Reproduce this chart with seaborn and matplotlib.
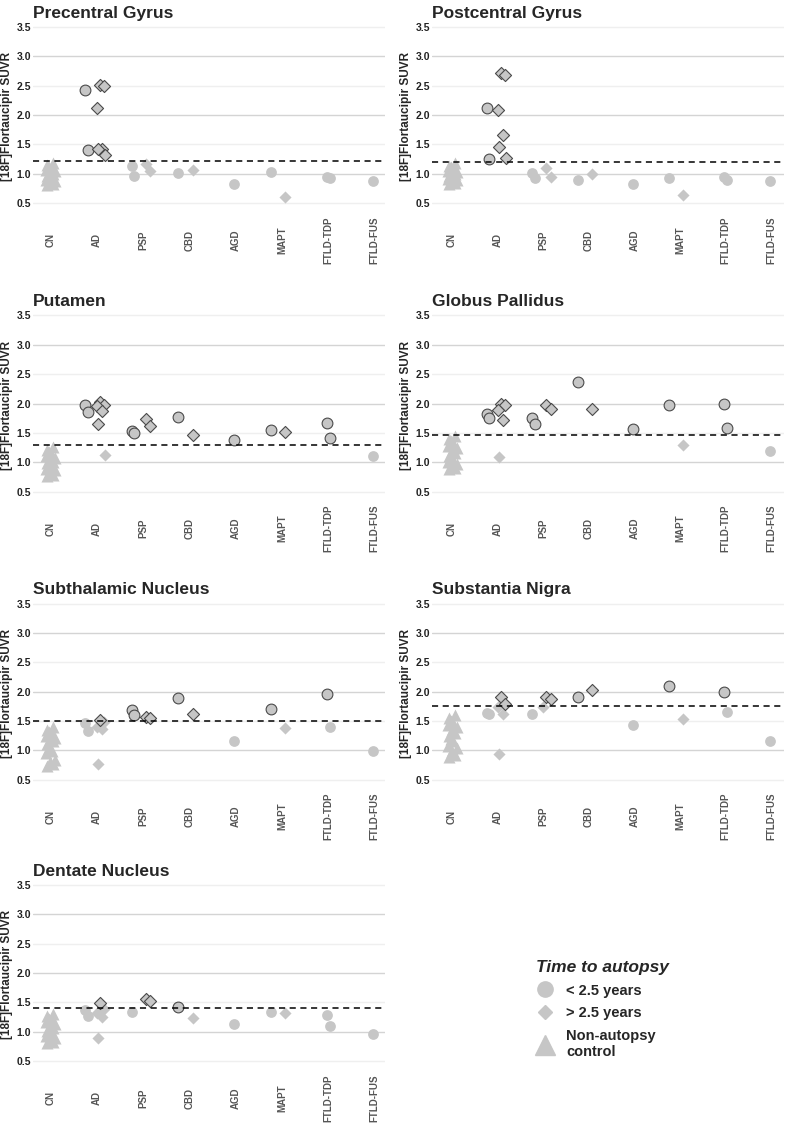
import pandas as pd
import matplotlib
matplotlib.use("Agg")
import matplotlib.pyplot as plt
from matplotlib.lines import Line2D
import seaborn as sns
import numpy as np

sns.set_style("white")
plt.rcParams["font.family"] = ["Liberation Sans", "DejaVu Sans"]

groups = ["CN", "AD", "PSP", "CBD", "AGD", "MAPT", "FTLD-TDP", "FTLD-FUS"]
regions = ["Precentral Gyrus", "Postcentral Gyrus", "Putamen", "Globus Pallidus",
           "Subthalamic Nucleus", "Substantia Nigra", "Dentate Nucleus"]
cutoffs = [1.22, 1.20, 1.30, 1.47, 1.49, 1.75, 1.40]

# non-autopsy controls (triangles)
precentral_cn = [0.80, 0.82, 0.85, 0.88, 0.90, 0.93, 0.95, 0.97, 1.00, 1.02, 1.04, 1.06, 1.09, 1.12, 1.15, 1.18]
postcentral_cn = [0.82, 0.84, 0.87, 0.89, 0.91, 0.93, 0.95, 0.97, 0.99, 1.01, 1.03, 1.05, 1.08, 1.11, 1.14, 1.18]
putamen_cn = [0.76, 0.79, 0.83, 0.86, 0.89, 0.92, 0.95, 0.98, 1.01, 1.04, 1.07, 1.10, 1.13, 1.17, 1.21, 1.26]
pallidus_cn = [0.88, 0.91, 0.94, 0.97, 1.00, 1.03, 1.07, 1.11, 1.15, 1.20, 1.24, 1.28, 1.32, 1.36, 1.40, 1.45]
subthal_cn = [0.73, 0.76, 0.80, 0.84, 0.95, 0.99, 1.03, 1.10, 1.15, 1.18, 1.21, 1.24, 1.27, 1.31, 1.35, 1.40]
nigra_cn = [0.88, 0.92, 0.98, 1.03, 1.08, 1.15, 1.20, 1.25, 1.30, 1.35, 1.40, 1.43, 1.46, 1.50, 1.55, 1.60]
dentate_cn = [0.80, 0.83, 0.86, 0.89, 0.92, 0.95, 0.98, 1.02, 1.06, 1.10, 1.13, 1.16, 1.19, 1.22, 1.26, 1.30]

# < 2.5 years to autopsy (circles)
precentral_lt = {"AD": [2.43, 1.41], "PSP": [1.14, 0.97], "CBD": [1.01], "AGD": [0.83],
                 "MAPT": [1.03], "FTLD-TDP": [0.95, 0.92], "FTLD-FUS": [0.88]}
postcentral_lt = {"AD": [2.12, 1.25], "PSP": [1.02, 0.93], "CBD": [0.90], "AGD": [0.83],
                  "MAPT": [0.92], "FTLD-TDP": [0.94, 0.90], "FTLD-FUS": [0.88]}
putamen_lt = {"AD": [1.98, 1.85], "PSP": [1.54, 1.50], "CBD": [1.77], "AGD": [1.38],
              "MAPT": [1.55], "FTLD-TDP": [1.67, 1.42], "FTLD-FUS": [1.10]}
pallidus_lt = {"AD": [1.82, 1.75], "PSP": [1.76, 1.65], "CBD": [2.36], "AGD": [1.57],
               "MAPT": [1.98], "FTLD-TDP": [2.00, 1.59], "FTLD-FUS": [1.19]}
subthal_lt = {"AD": [1.46, 1.32], "PSP": [1.68, 1.60], "CBD": [1.89], "AGD": [1.15],
              "MAPT": [1.70], "FTLD-TDP": [1.95, 1.40], "FTLD-FUS": [0.99]}
nigra_lt = {"AD": [1.64, 1.62], "PSP": [1.62], "CBD": [1.91], "AGD": [1.43],
            "MAPT": [2.09], "FTLD-TDP": [2.00, 1.66], "FTLD-FUS": [1.15]}
dentate_lt = {"AD": [1.37, 1.26], "PSP": [1.34], "CBD": [1.42], "AGD": [1.14],
              "MAPT": [1.33], "FTLD-TDP": [1.29, 1.09], "FTLD-FUS": [0.96]}

# > 2.5 years to autopsy (diamonds)
precentral_gt = {"AD": [2.52, 2.49, 2.12, 1.43, 1.42, 1.32], "PSP": [1.16, 1.04], "CBD": [1.06], "MAPT": [0.61]}
postcentral_gt = {"AD": [2.71, 2.69, 2.09, 1.66, 1.45, 1.27], "PSP": [1.10, 0.95], "CBD": [1.00], "MAPT": [0.64]}
putamen_gt = {"AD": [2.02, 1.97, 1.95, 1.88, 1.65, 1.13], "PSP": [1.73, 1.61], "CBD": [1.47], "MAPT": [1.51]}
pallidus_gt = {"AD": [2.00, 1.98, 1.89, 1.72, 1.09], "PSP": [1.98, 1.90], "CBD": [1.90], "MAPT": [1.29]}
subthal_gt = {"AD": [1.51, 1.48, 1.39, 1.36, 0.77], "PSP": [1.57, 1.55], "CBD": [1.61], "MAPT": [1.38]}
nigra_gt = {"AD": [1.91, 1.78, 1.73, 1.61, 0.94], "PSP": [1.90, 1.87, 1.73], "CBD": [2.02], "MAPT": [1.54]}
dentate_gt = {"AD": [1.49, 1.39, 1.32, 1.25, 0.89], "PSP": [1.55, 1.53], "CBD": [1.23], "MAPT": [1.32]}

cn_lists = [precentral_cn, postcentral_cn, putamen_cn, pallidus_cn, subthal_cn, nigra_cn, dentate_cn]
lt_lists = [precentral_lt, postcentral_lt, putamen_lt, pallidus_lt, subthal_lt, nigra_lt, dentate_lt]
gt_lists = [precentral_gt, postcentral_gt, putamen_gt, pallidus_gt, subthal_gt, nigra_gt, dentate_gt]

# small fixed horizontal spread so overlapping points stay visible
pattern = [0.0, 0.09, -0.07, 0.05, -0.03, 0.12, -0.1]
cn_pattern = [-0.06, 0.06, 0.0, 0.1, -0.1, 0.03, -0.03]

rows = []
for r, region in enumerate(regions):
    for i, v in enumerate(cn_lists[r]):
        rows.append((region, "CN", v, "ctrl", cn_pattern[i % len(cn_pattern)]))
    for g, vals in lt_lists[r].items():
        base = -0.24 if g in gt_lists[r] else -0.03
        for i, v in enumerate(vals):
            rows.append((region, g, v, "lt", base + 0.6 * pattern[i % len(pattern)]))
    for g, vals in gt_lists[r].items():
        for i, v in enumerate(vals):
            rows.append((region, g, v, "gt", 0.07 + pattern[i % len(pattern)]))
df = pd.DataFrame(rows, columns=["region", "group", "suvr", "kind", "dx"])
df["x"] = df["group"].map({g: i for i, g in enumerate(groups)}) + df["dx"]

fill = "#c6c6c6"
edge = "#4a4a4a"

W, H = 788, 1132
fig = plt.figure(figsize=(W / 100, H / 100), dpi=100)

row_tops = [27, 315.5, 603.5, 885]
ppu = 58.7
ylo, yhi = 0.2, 3.55
col_x = [33, 432]
col_xlim = [(-0.37, 7.22), (-0.44, 7.28)]

for r, region in enumerate(regions):
    row, col = divmod(r, 2)
    top = row_tops[row] - (yhi - 3.5) * ppu
    h = (yhi - ylo) * ppu
    w = 352
    ax = fig.add_axes([col_x[col] / W, 1 - (top + h) / H, w / W, h / H])
    sub = df[df["region"] == region]
    cut = cutoffs[r]

    for y in np.arange(0.5, 3.51, 0.5):
        ax.axhline(y, color="#d4d4d4" if y % 1 == 0 else "#efefef", lw=1.0, zorder=0)

    ctrl = sub[sub["kind"] == "ctrl"]
    sns.scatterplot(data=ctrl, x="x", y="suvr", marker="^", s=75, color=fill,
                    linewidth=0, ax=ax, legend=False, zorder=2)
    for kind, mk, size in [("lt", "o", 60), ("gt", "D", 38)]:
        part = sub[sub["kind"] == kind]
        low = part[part["suvr"] <= cut]
        high = part[part["suvr"] > cut]
        sns.scatterplot(data=low, x="x", y="suvr", marker=mk, s=size, color=fill,
                        linewidth=0, ax=ax, legend=False, zorder=2)
        sns.scatterplot(data=high, x="x", y="suvr", marker=mk, s=size, color=fill,
                        edgecolor=edge, linewidth=0.8, ax=ax, legend=False, zorder=3)

    ax.axhline(cut, color="black", lw=1.1, ls=(0, (4, 3)), zorder=4)

    ax.set_ylim(ylo, yhi)
    ax.set_xlim(*col_xlim[col])
    ax.set_yticks(np.arange(0.5, 3.51, 0.5))
    ax.set_yticklabels([f"{t:.1f}" for t in np.arange(0.5, 3.51, 0.5)],
                       fontsize=7.5, fontweight="bold", color="#222222")
    ax.set_xticks(range(len(groups)))
    ax.set_xticklabels(groups, rotation=90, va="center", fontsize=7,
                       fontweight="bold", color="#555555")
    ax.tick_params(axis="x", length=0, pad=14)
    ax.tick_params(axis="y", length=0, pad=1.5)
    sns.despine(ax=ax, left=True, bottom=True)
    ax.set_xlabel("")
    ax.set_ylabel("[18F]Flortaucipir SUVR", fontsize=8.5, fontweight="bold")
    ax.yaxis.set_label_coords(-20 / w, 0.53)
    ax.set_title(region, loc="left", fontsize=12.5, fontweight="bold", pad=4.5)

handles = [
    Line2D([], [], marker="o", ms=11, color=fill, ls="none"),
    Line2D([], [], marker="D", ms=7.5, color=fill, ls="none"),
    Line2D([], [], marker="^", ms=15, color=fill, ls="none"),
]
labels = ["< 2.5 years", "> 2.5 years", "Non-autopsy\ncontrol"]
leg = fig.legend(handles, labels, loc="upper left",
                 bbox_to_anchor=(530 / W, 1 - 954 / H), frameon=False,
                 title="Time to autopsy", alignment="left",
                 title_fontproperties={"weight": "bold", "style": "italic", "size": 12.5},
                 prop={"weight": "bold", "size": 10.5},
                 handlelength=1.2, handletextpad=0.9, labelspacing=0.6,
                 borderaxespad=0)

plt.savefig("out.png", dpi=100)
